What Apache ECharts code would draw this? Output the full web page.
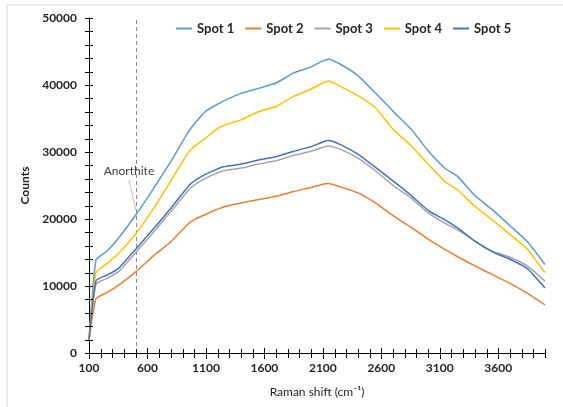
<!DOCTYPE html>
<html>
<head>
<meta charset="utf-8">
<script src="https://cdn.jsdelivr.net/npm/echarts@6/dist/echarts.min.js"></script>
<style>
html, body { margin: 0; padding: 0; background: #fff; }
#chart { width: 563px; height: 407px; }
</style>
</head>
<body>
<div id="chart"></div>
<script>
// Raman shift (cm-1) sample positions
const shifts = [100, 160, 250, 350, 500, 650, 800, 950, 1020, 1100, 1175, 1250, 1400, 1550, 1700, 1850, 2000,
    2100, 2150, 2250, 2400, 2550, 2700, 2850, 3000, 3150, 3250, 3400, 3550, 3700, 3850, 4000];

const spot1 = [1900, 13900, 15150, 17100, 20600, 24500, 28600, 33000, 34600, 36100, 36900, 37600, 38750, 39500, 40300, 41800, 42700,
    43600, 43850, 43100, 41400, 38800, 36100, 33500, 30200, 27500, 26400, 23500, 21400, 19000, 16600, 13200];
const spot2 = [1900, 8100, 9000, 10100, 12100, 14500, 16600, 19300, 20100, 20700, 21300, 21800, 22400, 22900, 23400, 24100, 24700,
    25200, 25300, 24800, 23900, 22400, 20500, 18800, 17000, 15400, 14400, 13000, 11700, 10400, 8900, 7200];
const spot3 = [1900, 10300, 11100, 12100, 15000, 18000, 21100, 24300, 25300, 26100, 26700, 27200, 27600, 28200, 28700, 29500, 30100,
    30700, 30900, 30400, 29100, 27200, 25000, 23200, 20900, 19300, 18400, 16700, 15200, 14300, 13000, 10700];
const spot4 = [1900, 12000, 13300, 14800, 17800, 21500, 25700, 29900, 31100, 32100, 33200, 33950, 34800, 36000, 36800, 38300, 39400,
    40300, 40600, 39800, 38400, 36600, 33400, 31000, 28200, 25500, 24400, 21900, 19850, 17700, 15500, 12000];
const spot5 = [1900, 10800, 11600, 12600, 15500, 18500, 21600, 24900, 25900, 26700, 27300, 27800, 28200, 28800, 29300, 30100, 30800,
    31500, 31700, 31100, 29700, 27700, 25700, 23600, 21300, 19800, 18700, 16700, 15100, 14000, 12600, 9700];

const seriesNames = ['Spot 1', 'Spot 2', 'Spot 3', 'Spot 4', 'Spot 5'];
const seriesColors = ['#5B9BD5', '#ED7D31', '#A5A5A5', '#FFC000', '#4472C4'];
const seriesValues = [spot1, spot2, spot3, spot4, spot5];

// cross tick marks (Excel style), every 100 cm-1 and every 2000 counts
const xTicks = Array.from({ length: 40 }, (_, i) => 100 + i * 100);
const yTicks = Array.from({ length: 26 }, (_, i) => i * 2000);

// annotation
const anorthiteShift = 500;
const anorthiteLabelAt = [442, 27200];
const anorthiteLeader = [[442, 25800], [500, 21300]];

const FONT = 'Lato, "Open Sans", sans-serif';

const chart = echarts.init(document.getElementById('chart'));

const series = seriesNames.map((name, i) => ({
    name: name,
    type: 'line',
    showSymbol: false,
    symbol: 'none',
    smooth: 0.15,
    color: seriesColors[i],
    lineStyle: { width: 1.5, color: seriesColors[i] },
    data: shifts.map((x, j) => [x, seriesValues[i][j]]),
    z: 3 + i
}));

// dashed marker + label live on the first series
series[0].markLine = {
    silent: true,
    symbol: 'none',
    animation: false,
    label: { show: false },
    data: [
        { xAxis: anorthiteShift, lineStyle: { type: [4, 3], color: '#8c8c8c', width: 1 } },
        [
            { coord: anorthiteLeader[0], lineStyle: { type: 'solid', color: '#bfbfbf', width: 1 } },
            { coord: anorthiteLeader[1] }
        ]
    ]
};
series[0].markPoint = {
    silent: true,
    symbol: 'circle',
    symbolSize: 0,
    animation: false,
    label: {
        show: true,
        formatter: 'Anorthite',
        color: '#404040',
        fontSize: 12,
        fontFamily: FONT
    },
    data: [{ coord: anorthiteLabelAt }]
};

// y ticks: short horizontal strokes across the y axis
series.push({
    name: 'yticks',
    type: 'custom',
    silent: true,
    clip: false,
    z: 20,
    data: yTicks.map(v => [2000, v]),
    renderItem: (params, api) => {
        const p = api.coord([100, api.value(1)]);
        const x = Math.round(p[0]);
        const y = Math.round(p[1]) + 0.5;
        return { type: 'line', shape: { x1: x - 4, y1: y, x2: x + 4, y2: y }, style: { stroke: '#000', lineWidth: 1 } };
    }
});

// x ticks: thin filled bars across the x axis
series.push({
    name: 'xticks',
    type: 'custom',
    silent: true,
    clip: false,
    z: 21,
    data: xTicks.map(v => [v, 25000]),
    renderItem: (params, api) => {
        const v = api.value(0);
        const p = api.coord([v, 0]);
        const x = Math.round(p[0]);
        const y = Math.round(p[1]);
        const half = (v - 100) % 500 === 0 ? 5 : 4;
        return { type: 'rect', shape: { x: x, y: y - half, width: 1, height: half * 2 + 1 }, style: { fill: '#000' } };
    }
});

const option = {
    animation: false,
    backgroundColor: '#fff',
    graphic: [{
        type: 'rect',
        shape: { x: 7, y: 5, width: 600, height: 450 },
        style: { fill: 'none', stroke: '#d9d9d9', lineWidth: 1 },
        silent: true
    }],
    legend: {
        left: 171,
        top: 17,
        icon: 'rect',
        itemWidth: 16,
        itemHeight: 2,
        itemGap: 11,
        textStyle: { fontFamily: FONT, fontWeight: 'bold', fontSize: 13, color: '#262626' },
        data: seriesNames
    },
    grid: { left: 89, right: 18, top: 18, bottom: 54 },
    xAxis: {
        type: 'value',
        min: 100,
        max: 4000,
        interval: 500,
        name: 'Raman shift (cm\u207B\u00B9)',
        nameLocation: 'middle',
        nameGap: 33,
        nameTextStyle: { fontFamily: FONT, fontSize: 12, color: '#262626' },
        axisLine: { show: true, lineStyle: { color: '#000', width: 1 } },
        axisTick: { show: false },
        axisLabel: {
            margin: 9,
            showMaxLabel: false,
            fontFamily: FONT,
            fontWeight: 'bold',
            fontSize: 12,
            color: '#262626',
            formatter: v => String(v)
        },
        splitLine: { show: false }
    },
    yAxis: {
        type: 'value',
        min: 0,
        max: 50000,
        interval: 10000,
        name: 'Counts',
        nameLocation: 'middle',
        nameGap: 56,
        nameTextStyle: { fontFamily: FONT, fontWeight: 'bold', fontSize: 12, color: '#262626' },
        axisLine: { show: true, lineStyle: { color: '#000', width: 1 } },
        axisTick: { show: false },
        axisLabel: {
            margin: 12,
            fontFamily: FONT,
            fontWeight: 'bold',
            fontSize: 12,
            color: '#262626',
            formatter: v => String(v)
        },
        splitLine: { show: false }
    },
    series: series
};

chart.setOption(option);
</script>
</body>
</html>
